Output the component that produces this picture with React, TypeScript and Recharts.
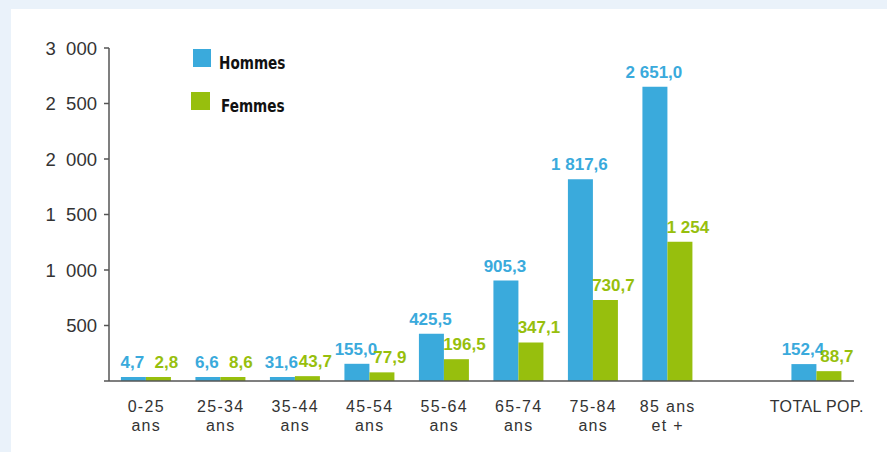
import { BarChart, Bar, XAxis, YAxis, Legend, LabelList } from 'recharts';

// taux par tranche d'âge, hommes / femmes
const categories = ['0-25\nans', '25-34\nans', '35-44\nans', '45-54\nans', '55-64\nans', '65-74\nans', '75-84\nans', '85 ans\net +', '', 'TOTAL POP.'];
const hommes = [4.7, 6.6, 31.6, 155.0, 425.5, 905.3, 1817.6, 2651.0, null, 152.4];
const femmes = [2.8, 8.6, 43.7, 77.9, 196.5, 347.1, 730.7, 1254, null, 88.7];
const hommesLabels = ['4,7', '6,6', '31,6', '155,0', '425,5', '905,3', '1 817,6', '2 651,0', '', '152,4'];
const femmesLabels = ['2,8', '8,6', '43,7', '77,9', '196,5', '347,1', '730,7', '1 254', '', '88,7'];
const yTicks = [0, 500, 1000, 1500, 2000, 2500, 3000];
const boundaryTicks = [1, 2, 3, 4, 5, 6, 7, 8, 9, 10];

const BLUE = '#3aaadc';
const GREEN = '#97bf0d';
const AXIS = '#555';

const data = categories.map((name, i) => ({
  name,
  pos: i + 0.5,
  hommes: hommes[i],
  femmes: femmes[i],
}));

const formatY = (v: number) => {
  if (v === 0) return '';
  const s = String(v);
  return s.length > 3 ? s.slice(0, s.length - 3) + '\u2007' + s.slice(-3) : s;
};

const CategoryTick = (props: any) => {
  const { x, y, payload } = props;
  const lines = String(payload.value).split('\n');
  return (
    <g>
      {lines.map((l, i) => (
        <text
          key={i}
          x={x}
          y={Number(y) + 30 + i * 18.5}
          textAnchor="middle"
          fill="#333"
          fontSize={16}
          letterSpacing={l.startsWith('TOTAL') ? 0.4 : 1.3}
          fontFamily="Liberation Sans, Arial, sans-serif"
        >
          {l}
        </text>
      ))}
    </g>
  );
};

const makeLabel = (values: (number | null)[], labels: string[], color: string, dx: number) => (props: any) => {
  const { x, y, width, value } = props;
  const idx = values.indexOf(value);
  const txt = idx >= 0 ? labels[idx] : '';
  if (!txt) return null;
  return (
    <text
      x={Number(x) + Number(width) / 2 + dx}
      y={Number(y) - 9}
      textAnchor="middle"
      fill={color}
      fontSize={17}
      fontWeight="bold"
      fontFamily="Liberation Sans, Arial, sans-serif"
    >
      {txt}
    </text>
  );
};

const narrow = { display: 'inline-block', transform: 'scaleX(0.84)', transformOrigin: 'left center', marginTop: 8 };

const LegendBox = () => (
  <div style={{ fontFamily: '"Liberation Sans Narrow", "DejaVu Sans Condensed", sans-serif', fontWeight: 'bold', fontSize: 18, color: '#111', whiteSpace: 'nowrap' }}>
    <div style={{ display: 'flex', alignItems: 'center', height: 18, marginLeft: 2 }}>
      <span style={{ width: 18, height: 18, background: BLUE, display: 'inline-block', marginRight: 8 }} />
      <span style={narrow}>Hommes</span>
    </div>
    <div style={{ display: 'flex', alignItems: 'center', height: 18, marginTop: 25 }}>
      <span style={{ width: 19, height: 18, background: GREEN, display: 'inline-block', marginRight: 11 }} />
      <span style={narrow}>Femmes</span>
    </div>
  </div>
);

export default function App() {
  return (
    <div style={{ position: 'absolute', left: 0, top: 0, width: 887, height: 452, background: '#eaf2fa' }}>
      <div style={{ position: 'absolute', left: 11, top: 9, width: 876, height: 443, background: '#fff' }}>
        <BarChart
          width={876}
          height={443}
          data={data}
          margin={{ top: 39, right: 33, left: 0, bottom: 11 }}
          barCategoryGap="16%"
          barGap={0}
        >
          <XAxis
            xAxisId="bounds"
            type="number"
            dataKey="pos"
            domain={[0, 10]}
            ticks={boundaryTicks}
            tick={false}
            tickSize={6}
            height={1}
            axisLine={{ stroke: AXIS, strokeWidth: 1.5 }}
            tickLine={{ stroke: AXIS, strokeWidth: 1.5 }}
          />
          <XAxis
            xAxisId="cat"
            dataKey="name"
            axisLine={false}
            tickLine={false}
            tickSize={0}
            tickMargin={0}
            interval={0}
            height={59}
            tick={<CategoryTick />}
          />
          <YAxis
            width={98}
            domain={[0, 3000]}
            ticks={yTicks}
            tickFormatter={formatY}
            tickSize={5}
            tickMargin={7}
            axisLine={{ stroke: AXIS, strokeWidth: 1.5 }}
            tickLine={{ stroke: AXIS, strokeWidth: 1.5 }}
            tick={{ fill: '#333', fontSize: 18.5, fontFamily: 'Liberation Sans, Arial, sans-serif' }}
          />
          <Legend
            layout="vertical"
            align="center"
            verticalAlign="middle"
            wrapperStyle={{ left: 180, top: 40, width: 140, height: 70 }}
            content={<LegendBox />}
          />
          <Bar xAxisId="cat" dataKey="hommes" name="Hommes" fill={BLUE} minPointSize={4} isAnimationActive={false}>
            <LabelList dataKey="hommes" content={makeLabel(hommes, hommesLabels, BLUE, -1)} />
          </Bar>
          <Bar xAxisId="cat" dataKey="femmes" name="Femmes" fill={GREEN} minPointSize={4} isAnimationActive={false}>
            <LabelList dataKey="femmes" content={makeLabel(femmes, femmesLabels, GREEN, 8)} />
          </Bar>
        </BarChart>
      </div>
    </div>
  );
}
